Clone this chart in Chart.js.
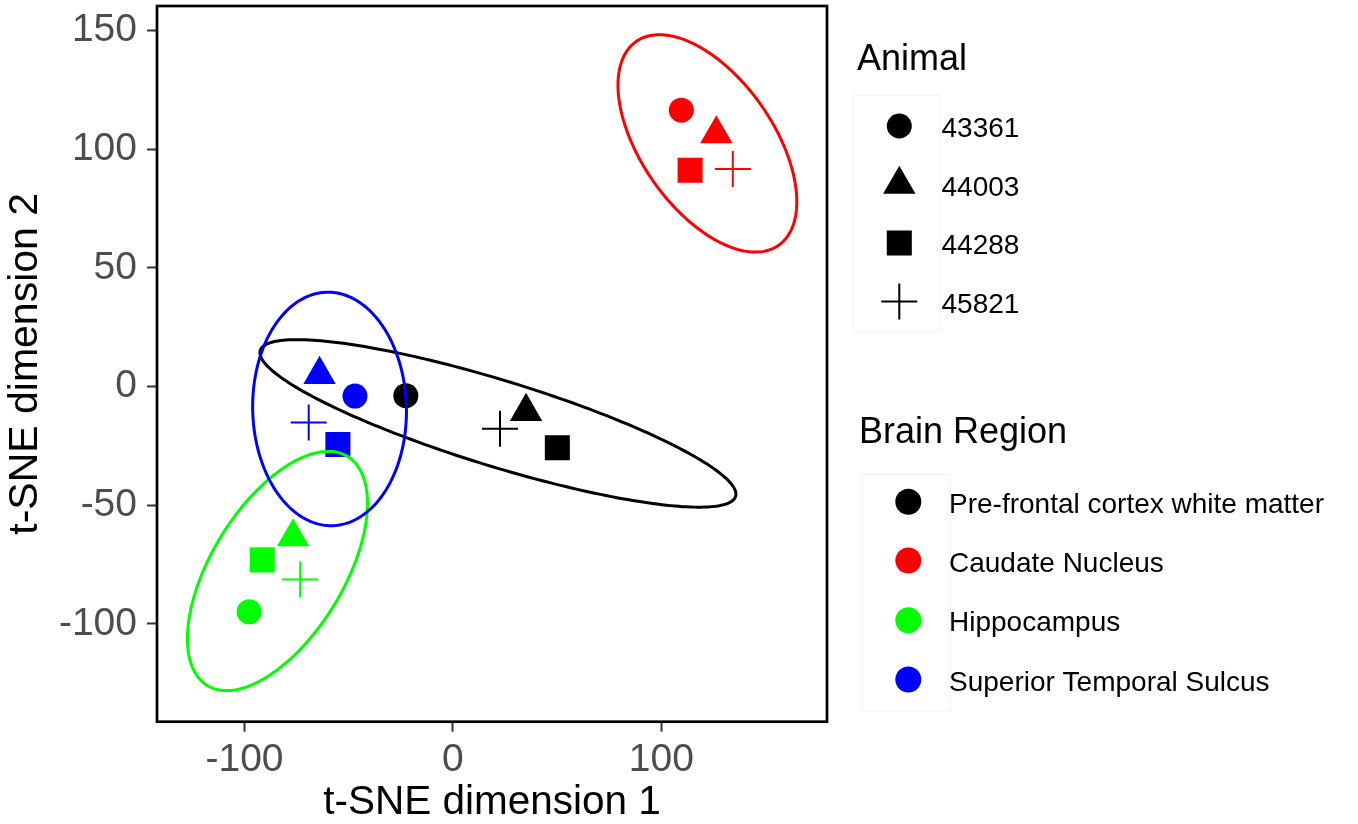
<!DOCTYPE html>
<html>
<head>
<meta charset="utf-8">
<script src="https://cdn.jsdelivr.net/npm/chart.js@4/dist/chart.umd.min.js"></script>
<style>
  html, body { margin: 0; padding: 0; background: #ffffff; }
  #wrap { width: 1358px; height: 824px; position: relative; }
</style>
</head>
<body>
<div id="wrap"><canvas id="c"></canvas></div>
<script>
// ---------- data ----------
const animals = ['43361', '44003', '44288', '45821'];
const animalShapes = ['circle', 'triangle', 'rect', 'cross'];
const regions = ['Pre-frontal cortex white matter', 'Caudate Nucleus', 'Hippocampus', 'Superior Temporal Sulcus'];
const regionColors = ['#000000', '#ff0000', '#00ff00', '#0000ff'];

// points per region, ordered by animal (43361, 44003, 44288, 45821)
const pfcX = [-22.6, 35.1, 50.1, 22.6];
const pfcY = [-3.8, -10.5, -25.8, -17.8];
const cnX  = [109.6, 126.4, 113.8, 134.3];
const cnY  = [116.5, 106.5, 91.2, 91.7];
const hipX = [-97.8, -76.7, -91.5, -73.3];
const hipY = [-94.9, -63.3, -73.0, -81.3];
const stsX = [-47.0, -64.0, -55.2, -69.2];
const stsY = [-4.0, 5.1, -24.4, -15.1];

// 95% ellipses per region (centre, half extent along x / y, correlation)
const ellipseCx  = [21.6, 122.1, -84.2, -59.2];
const ellipseCy  = [-15.5, 102.5, -77.7, -9.4];
const ellipseRx  = [114.2, 42.9, 43.2, 36.9];
const ellipseRy  = [35.3, 45.8, 50.4, 49.2];
const ellipseRho = [-0.844, -0.536, 0.565, -0.02];

const xTicks = [-100, 0, 100];
const yTicks = [-100, -50, 0, 50, 100, 150];
const xRange = [-142.0, 179.5];
const yRange = [-141.2, 160.4];

// ---------- styles ----------
const FONT = "'Liberation Sans', Arial, Helvetica, sans-serif";
const shapeRadius = { circle: 12.5, triangle: 18.7, rect: 17.7, cross: 18 };

const seriesX = [pfcX, cnX, hipX, stsX];
const seriesY = [pfcY, cnY, hipY, stsY];

const datasets = regions.map((r, i) => ({
  label: r,
  data: seriesX[i].map((xv, k) => ({ x: xv, y: seriesY[i][k] })),
  pointStyle: animalShapes,
  pointRadius: animalShapes.map(s => shapeRadius[s]),
  pointBorderWidth: animalShapes.map(s => s === 'cross' ? 2 : 0),
  backgroundColor: regionColors[i],
  borderColor: regionColors[i],
  showLine: false
}));

function drawShape(ctx, shape, x, y, color) {
  const r = shapeRadius[shape];
  ctx.save();
  ctx.fillStyle = color;
  ctx.strokeStyle = color;
  ctx.beginPath();
  if (shape === 'circle') {
    ctx.arc(x, y, r, 0, Math.PI * 2);
    ctx.fill();
  } else if (shape === 'triangle') {
    let rad = 0;
    ctx.moveTo(x + Math.sin(rad) * r, y - Math.cos(rad) * r);
    rad += 2 * Math.PI / 3;
    ctx.lineTo(x + Math.sin(rad) * r, y - Math.cos(rad) * r);
    rad += 2 * Math.PI / 3;
    ctx.lineTo(x + Math.sin(rad) * r, y - Math.cos(rad) * r);
    ctx.closePath();
    ctx.fill();
  } else if (shape === 'rect') {
    const s = Math.SQRT1_2 * r;
    ctx.rect(x - s, y - s, 2 * s, 2 * s);
    ctx.fill();
  } else if (shape === 'cross') {
    ctx.lineWidth = 2;
    ctx.moveTo(x - r, y); ctx.lineTo(x + r, y);
    ctx.moveTo(x, y - r); ctx.lineTo(x, y + r);
    ctx.stroke();
  }
  ctx.restore();
}

const ellipsePlugin = {
  id: 'ellipses',
  afterDatasetsDraw(chart) {
    const { ctx, chartArea, scales } = chart;
    const sx = scales.x, sy = scales.y;
    ctx.save();
    ctx.beginPath();
    ctx.rect(chartArea.left, chartArea.top, chartArea.right - chartArea.left, chartArea.bottom - chartArea.top);
    ctx.clip();
    for (let i = 0; i < regions.length; i++) {
      const rho = ellipseRho[i];
      const q = Math.sqrt(1 - rho * rho);
      ctx.beginPath();
      const N = 240;
      for (let k = 0; k <= N; k++) {
        const t = 2 * Math.PI * k / N;
        const xv = ellipseCx[i] + ellipseRx[i] * Math.cos(t);
        const yv = ellipseCy[i] + ellipseRy[i] * (rho * Math.cos(t) + q * Math.sin(t));
        const px = sx.getPixelForValue(xv), py = sy.getPixelForValue(yv);
        if (k === 0) ctx.moveTo(px, py); else ctx.lineTo(px, py);
      }
      ctx.closePath();
      ctx.lineWidth = 3;
      ctx.strokeStyle = regionColors[i];
      ctx.stroke();
    }
    ctx.restore();
  }
};

const framePlugin = {
  id: 'frame',
  afterDraw(chart) {
    const { ctx, chartArea: a } = chart;
    ctx.save();
    ctx.lineWidth = 2.7;
    ctx.strokeStyle = '#000000';
    ctx.strokeRect(a.left, a.top, a.right - a.left, a.bottom - a.top);
    ctx.restore();
  }
};

const legendPlugin = {
  id: 'customLegend',
  afterDraw(chart) {
    const ctx = chart.ctx;
    ctx.save();
    // Animal legend
    ctx.fillStyle = '#000000';
    ctx.textAlign = 'left';
    ctx.textBaseline = 'alphabetic';
    ctx.font = '36px ' + FONT;
    ctx.fillText('Animal', 857, 70);
    ctx.strokeStyle = '#f4f4f4';
    ctx.lineWidth = 1;
    ctx.strokeRect(853.5, 95.5, 87, 236);
    const aRows = [126, 184.5, 243, 301.5];
    ctx.font = '28px ' + FONT;
    animals.forEach((a, i) => {
      drawShape(ctx, animalShapes[i], 899.3, aRows[i], '#000000');
      ctx.fillStyle = '#000000';
      ctx.fillText(a, 941.5, aRows[i] + 11);
    });
    // Brain Region legend
    ctx.font = '36px ' + FONT;
    ctx.fillText('Brain Region', 859, 443);
    ctx.strokeStyle = '#f4f4f4';
    ctx.strokeRect(862.5, 474.5, 88, 236);
    const bRows = [501.7, 560.5, 620.2, 679.5];
    ctx.font = '28px ' + FONT;
    regions.forEach((r, i) => {
      ctx.beginPath();
      ctx.fillStyle = regionColors[i];
      ctx.arc(908.3, bRows[i], 13, 0, Math.PI * 2);
      ctx.fill();
      ctx.fillStyle = '#000000';
      ctx.fillText(r, 949, bRows[i] + 11);
    });
    ctx.restore();
  }
};

new Chart(document.getElementById('c'), {
  type: 'scatter',
  data: { datasets },
  plugins: [ellipsePlugin, framePlugin, legendPlugin],
  options: {
    responsive: true,
    maintainAspectRatio: false,
    animation: false,
    events: [],
    layout: { autoPadding: false, padding: { left: 0, top: 6, right: 531, bottom: 0 } },
    plugins: { legend: { display: false }, tooltip: { enabled: false } },
    scales: {
      x: {
        type: 'linear',
        min: xRange[0], max: xRange[1],
        afterBuildTicks: s => { s.ticks = xTicks.map(v => ({ value: v })); },
        afterFit: s => { s.height = 102.3; s.paddingLeft = 0; s.paddingRight = 0; },
        border: { display: false },
        grid: { display: true, drawOnChartArea: false, drawTicks: true, tickLength: 10, tickWidth: 2, tickColor: '#333333' },
        ticks: { color: '#4d4d4d', font: { family: FONT, size: 39, lineHeight: 1.2 }, padding: 5, maxRotation: 0, autoSkip: false },
        title: { display: true, text: 't-SNE dimension 1', color: '#000000', font: { family: FONT, size: 40.5, lineHeight: 1.05 }, padding: { top: 0, bottom: 0 } }
      },
      y: {
        type: 'linear',
        min: yRange[0], max: yRange[1],
        afterBuildTicks: s => { s.ticks = yTicks.map(v => ({ value: v })); },
        afterFit: s => { s.width = 157; s.paddingTop = 0; s.paddingBottom = 0; },
        border: { display: false },
        grid: { display: true, drawOnChartArea: false, drawTicks: true, tickLength: 10, tickWidth: 2, tickColor: '#333333' },
        ticks: { color: '#4d4d4d', font: { family: FONT, size: 39, lineHeight: 1.2 }, padding: 10, autoSkip: false },
        title: { display: true, text: 't-SNE dimension 2', color: '#000000', font: { family: FONT, size: 41, lineHeight: 1.2 }, padding: { top: 1, bottom: 0 } }
      }
    }
  }
});
</script>
</body>
</html>
